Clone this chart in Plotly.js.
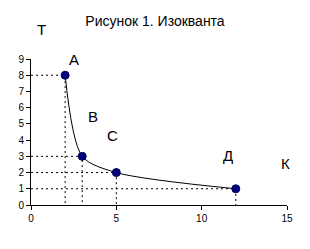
<!DOCTYPE html>
<html><head><meta charset="utf-8">
<script src="https://cdn.plot.ly/plotly-3.0.1.min.js"></script>
<style>html,body{margin:0;padding:0;background:#fff}#c{width:310px;height:249px}</style>
</head><body><div id="c"></div>
<script>
const capital = [2, 3, 5, 12];
const labour = [8, 3, 2, 1];
const pointNames = ['A', 'B', 'C', 'Д'];

const traces = [];
capital.forEach((k, i) => {
  traces.push({x: [0, k, k], y: [labour[i], labour[i], 0], mode: 'lines', type: 'scatter',
    line: {color: '#000', width: 1, dash: '2px,3px'}, hoverinfo: 'skip', showlegend: false});
});
traces.push({x: capital, y: labour, mode: 'lines+markers', type: 'scatter',
  line: {color: '#000', width: 1, shape: 'spline', smoothing: 0.8},
  marker: {color: '#000080', size: 8, line: {color: '#000050', width: 1}}, showlegend: false});

const F = 'Liberation Sans, Arial, sans-serif';
// label positions: x in data units, y in paper units of the plot area
const labelPos = [[2.5, 1.068], [3.65, 0.605], [4.8, 0.475], [11.55, 0.34]];
const annotations = pointNames.map((n, i) => ({x: labelPos[i][0], y: labelPos[i][1], xref: 'x', yref: 'paper',
  text: n, showarrow: false, font: {size: 15, color: '#000', family: F}}));
annotations.push({x: 14.9, y: 0.215, xref: 'x', yref: 'paper', text: 'К', showarrow: false,
  font: {size: 15, color: '#000', family: F}});
annotations.push({x: 0.016, y: 1.274, xref: 'paper', yref: 'paper', text: 'Т', showarrow: false,
  font: {size: 15, color: '#000', family: F}});

const layout = {
  width: 310, height: 249,
  margin: {l: 31, r: 23, t: 59, b: 44},
  paper_bgcolor: '#fff', plot_bgcolor: '#fff',
  font: {family: F, color: '#000', size: 10},
  title: {text: 'Рисунок 1. Изокванта', x: 0.5, xref: 'container', y: 1 - 21/249, yanchor: 'middle',
    font: {size: 14, color: '#000'}},
  xaxis: {range: [0, 15], dtick: 5, tick0: 0, showgrid: false, zeroline: false, showline: true,
    linecolor: '#000', linewidth: 1, ticks: 'outside', ticklen: 4, tickcolor: '#000', fixedrange: true},
  yaxis: {range: [0, 9], dtick: 1, tick0: 0, showgrid: false, zeroline: false, showline: true,
    linecolor: '#000', linewidth: 1, ticks: 'outside', ticklen: 4, tickcolor: '#000', fixedrange: true},
  annotations: annotations
};
Plotly.newPlot('c', traces, layout, {displayModeBar: false, staticPlot: true});
</script></body></html>
